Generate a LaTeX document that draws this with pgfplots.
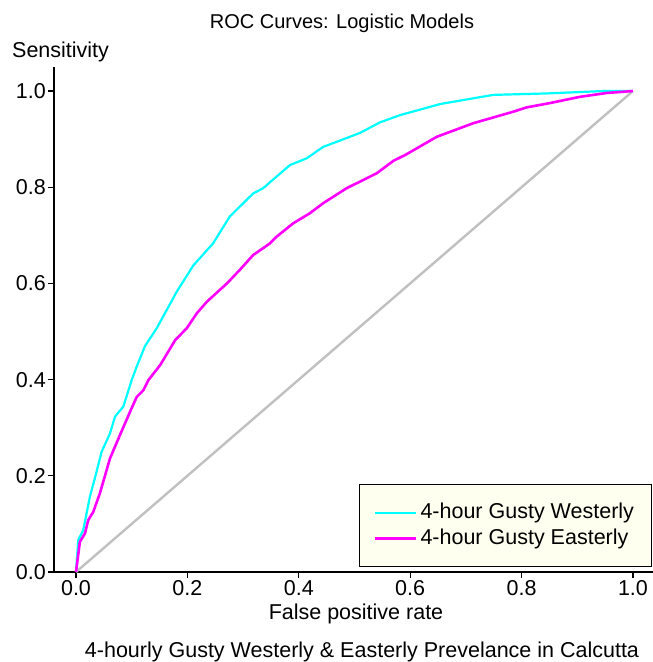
\documentclass[border=0pt]{standalone}
\usepackage{pgfplots}
\pgfplotsset{compat=1.18}
\usepackage{fontspec}
\setmainfont{Liberation Sans}
\definecolor{legfill}{RGB}{255,255,240}
\definecolor{diag}{RGB}{192,192,192}
\definecolor{cy}{RGB}{0,255,255}
\definecolor{mg}{RGB}{255,0,255}
\pgfplotstableread{
x y
0 0
0.004 0.066
0.013 0.087
0.025 0.157
0.035 0.2
0.046 0.25
0.061 0.288
0.07 0.323
0.085 0.344
0.1 0.399
0.11 0.43
0.124 0.47
0.145 0.507
0.163 0.545
0.181 0.583
0.211 0.638
0.246 0.683
0.276 0.739
0.318 0.787
0.336 0.798
0.384 0.846
0.414 0.86
0.444 0.884
0.474 0.897
0.510 0.913
0.546 0.935
0.582 0.950
0.654 0.973
0.749 0.992
0.845 0.995
0.947 1.0
1 1
}\west
\pgfplotstableread{
x y
0 0
0.007 0.063
0.016 0.08
0.022 0.108
0.031 0.125
0.043 0.164
0.061 0.236
0.079 0.285
0.097 0.333
0.109 0.364
0.121 0.378
0.13 0.399
0.151 0.43
0.178 0.482
0.199 0.507
0.217 0.538
0.235 0.562
0.271 0.6
0.294 0.628
0.318 0.659
0.348 0.683
0.36 0.697
0.39 0.725
0.42 0.746
0.444 0.767
0.486 0.798
0.54 0.829
0.57 0.855
0.591 0.867
0.648 0.905
0.713 0.933
0.785 0.957
0.809 0.966
0.851 0.975
0.905 0.988
0.953 0.996
1 1
}\east
\begin{document}
\fontsize{21.5bp}{26bp}\selectfont
\begin{tikzpicture}
\useasboundingbox (-54bp,-90bp) rectangle (599bp,572bp);
\begin{axis}[
  scale only axis, width=599bp, height=505bp,
  xmin=-0.0395, xmax=1.036, ymin=0, ymax=1.05,
  axis x line*=bottom, axis y line*=left,
  axis line style={line width=1.5bp, -},
  xtick={0,0.2,0.4,0.6,0.8,1.0}, ytick={0,0.2,0.4,0.6,0.8,1.0},
  major tick length=6bp, tick align=outside,
  tick style={black, line width=1.2bp},
  ticklabel style={font=\fontsize{21.5bp}{26bp}\selectfont},
  xticklabel style={inner sep=2bp},
  yticklabel style={inner sep=2bp},
  /pgf/number format/assume math mode=true,
  /pgf/number format/.cd, fixed, fixed zerofill, precision=1, /pgfplots/.cd,
  clip=false,
  legend cell align=left,
  legend image code/.code={\draw[#1] (0bp,0bp) -- (41bp,0bp);},
  legend style={at={(rel axis cs:0.9983,0.0099)}, anchor=south east,
    draw=black, line width=1bp, fill=legfill,
    font=\fontsize{21.5bp}{26bp}\selectfont,
    nodes={inner sep=3.5bp},
    inner xsep=14bp, inner ysep=15bp},
]
\addplot[diag, line width=2.4bp, forget plot] coordinates {(0,0) (1,1)};
\addplot[cy, line width=2.2bp] table[x=x,y=y] {\west};
\addlegendentry{4-hour Gusty Westerly}
\addplot[mg, line width=2.6bp] table[x=x,y=y] {\east};
\addlegendentry{4-hour Gusty Easterly}
\end{axis}
\node[anchor=base, inner sep=0, font=\fontsize{20bp}{24bp}\selectfont] at (288bp,543bp) {ROC Curves: Logistic Models};
\node[anchor=base west, inner sep=0] at (-42bp,514bp) {Sensitivity};
\node[anchor=base, inner sep=0] at (302bp,-47bp) {False positive rate};
\node[anchor=base, inner sep=0] at (308bp,-85bp) {4-hourly Gusty Westerly \& Easterly Prevelance in Calcutta};
\end{tikzpicture}
\end{document}
